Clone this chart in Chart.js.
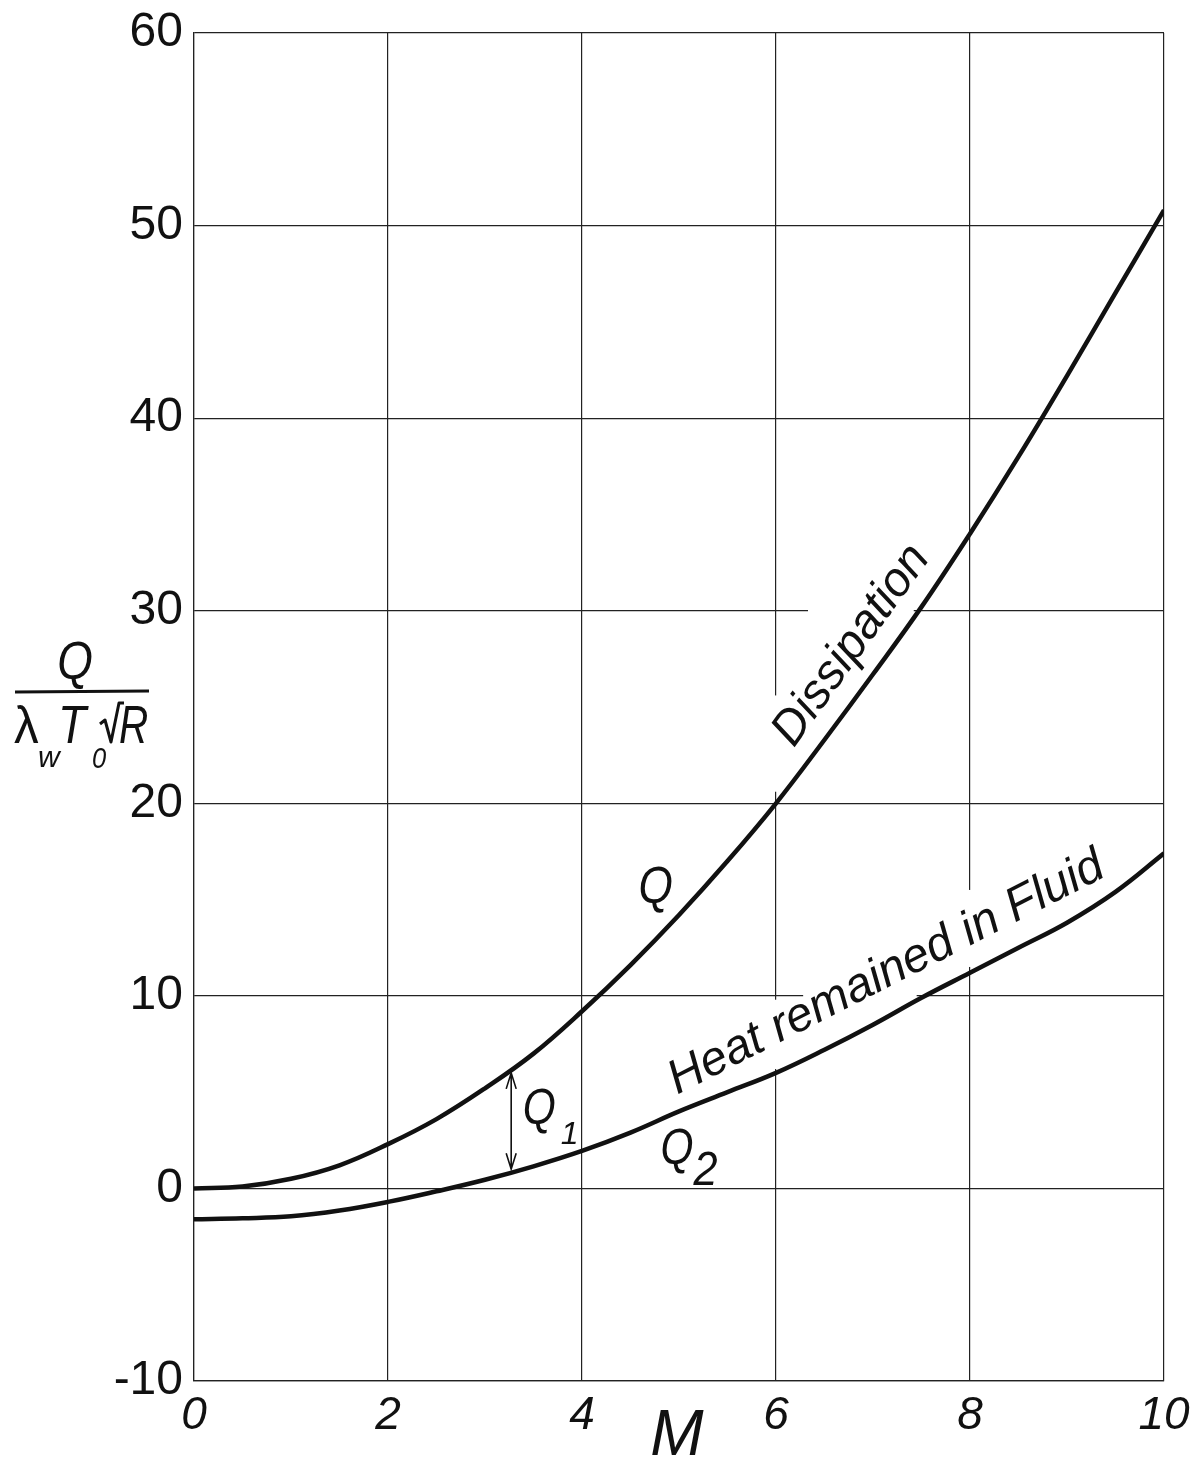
<!DOCTYPE html>
<html>
<head>
<meta charset="utf-8">
<title>Heat dissipation vs Mach number</title>
<script src="https://cdn.jsdelivr.net/npm/chart.js@4.4.1/dist/chart.umd.min.js"></script>
<style>
  html, body { margin: 0; padding: 0; background: #fff; }
  canvas { display: block; }
</style>
</head>
<body>
<canvas id="c" width="1201" height="1458"></canvas>
<script>
// Mach number samples along the x axis
const machNumbers = [0, 0.5, 1, 1.5, 2, 2.5, 3, 3.5, 4, 4.5, 5, 5.5, 6, 6.5, 7, 7.5, 8, 8.5, 9, 9.5, 10];
// Q : total dissipation
const dissipationQ = [0, 0.1, 0.5, 1.2, 2.3, 3.6, 5.2, 7.0, 9.2, 11.6, 14.2, 17.0, 20.0, 23.3, 26.7, 30.2, 34.0, 38.0, 42.2, 46.5, 50.8];
// Q2 : heat remained in the fluid
const heatInFluidQ2 = [-1.6, -1.55, -1.45, -1.15, -0.7, -0.15, 0.45, 1.15, 1.95, 2.9, 4.0, 5.0, 6.0, 7.2, 8.5, 9.9, 11.2, 12.5, 13.8, 15.4, 17.4];
// Q1 = Q - Q2 is marked by a double arrow at this Mach number
const q1ArrowMach = 3.27;
const q1ArrowTop = 6.0;
const q1ArrowBottom = 1.0;

// axis ranges and tick spacing
const xRange = [0, 10];
const yRange = [-10, 60];
const xStep = 2;
const yStep = 10;

const INK = '#111';
const LETTER = '"Liberation Sans", Arial, sans-serif';

function toPoints(xs, ys) { return xs.map((x, i) => ({ x: x, y: ys[i] })); }

// pieces of grid line left blank where the lettering sits
const gridGaps = [
  { along: 'x', at: 30, from: 6.33, to: 7.42 },
  { along: 'x', at: 10, from: 6.28, to: 7.45 },
  { along: 'y', at: 6, from: 20.6, to: 25.6 },
  { along: 'y', at: 6, from: 6.2, to: 9.8 },
  { along: 'y', at: 8, from: 11.5, to: 15.5 }
];

const gridGapPlugin = {
  id: 'gridGaps',
  beforeDatasetsDraw(chart) {
    const { ctx, scales: { x, y } } = chart;
    ctx.save();
    ctx.strokeStyle = '#fff';
    ctx.lineWidth = 4;
    gridGaps.forEach(g => {
      ctx.beginPath();
      if (g.along === 'x') {
        ctx.moveTo(x.getPixelForValue(g.from), y.getPixelForValue(g.at));
        ctx.lineTo(x.getPixelForValue(g.to), y.getPixelForValue(g.at));
      } else {
        ctx.moveTo(x.getPixelForValue(g.at), y.getPixelForValue(g.from));
        ctx.lineTo(x.getPixelForValue(g.at), y.getPixelForValue(g.to));
      }
      ctx.stroke();
    });
    ctx.restore();
  }
};

// text helper; sx squeezes the lettering horizontally
function text(ctx, str, px, py, font, angleDeg, align, sx) {
  ctx.save();
  ctx.translate(px, py);
  ctx.rotate((angleDeg || 0) * Math.PI / 180);
  ctx.scale(sx || 1, 1);
  ctx.font = font;
  ctx.fillStyle = INK;
  ctx.textAlign = align || 'center';
  ctx.textBaseline = 'alphabetic';
  ctx.fillText(str, 0, 0);
  ctx.restore();
}

const labelPlugin = {
  id: 'curveLabels',
  afterDatasetsDraw(chart) {
    const { ctx, scales: { x, y } } = chart;
    const X = v => x.getPixelForValue(v);
    const Y = v => y.getPixelForValue(v);

    // curve names written along the curves
    text(ctx, 'Dissipation', X(6.89), Y(27.8), 'italic 48px ' + LETTER, -54.3, 'center');
    text(ctx, 'Heat remained in Fluid', X(7.20), Y(10.56), 'italic 48px ' + LETTER, -27.0, 'center');
    text(ctx, 'Q', X(4.76), Y(14.8), 'italic 52px ' + LETTER, 0, 'center', 0.85);

    // Q1 with its double arrow, and Q2
    text(ctx, 'Q', X(3.56), Y(3.33), 'italic 50px ' + LETTER, 0, 'center', 0.85);
    text(ctx, '1', X(3.78), Y(2.29), 'italic 32px ' + LETTER, 0, 'left');
    text(ctx, 'Q', X(4.98), Y(1.25), 'italic 50px ' + LETTER, 0, 'center', 0.85);
    text(ctx, '2', X(5.15), Y(0.2), 'italic 48px ' + LETTER, 0, 'left', 0.9);

    const ax = X(q1ArrowMach), at = Y(q1ArrowTop), ab = Y(q1ArrowBottom);
    ctx.save();
    ctx.strokeStyle = INK;
    ctx.lineWidth = 1.6;
    ctx.beginPath();
    ctx.moveTo(ax, at); ctx.lineTo(ax, ab);
    ctx.moveTo(ax - 5, at + 16); ctx.lineTo(ax, at); ctx.lineTo(ax + 5, at + 16);
    ctx.moveTo(ax - 5, ab - 16); ctx.lineTo(ax, ab); ctx.lineTo(ax + 5, ab - 16);
    ctx.stroke();
    ctx.restore();
  },
  afterDraw(chart) {
    const { ctx, chartArea } = chart;
    // x axis title
    text(ctx, 'M', (chartArea.left + chartArea.right) / 2 - 2, chart.height - 3, 'italic 64px ' + LETTER, 0, 'center');

    // y axis title: Q / (λ_w T_0 √R)
    const f = 'italic 54px ' + LETTER;
    const sub = 'italic 30px ' + LETTER;
    text(ctx, 'Q', 75, 679, f, 0, 'center', 0.85);
    ctx.save();
    ctx.strokeStyle = INK;
    ctx.lineWidth = 3;
    ctx.beginPath();
    ctx.moveTo(15, 692); ctx.lineTo(149, 691);
    ctx.stroke();
    ctx.restore();
    text(ctx, 'λ', 14, 743, '52px ' + LETTER, 0, 'left', 0.95);
    text(ctx, 'w', 38, 767, sub, 0, 'left');
    text(ctx, 'T', 58, 743, f, 0, 'left', 0.85);
    text(ctx, '0', 92, 768, sub, 0, 'left', 0.85);
    ctx.save();
    ctx.strokeStyle = INK;
    ctx.lineWidth = 3;
    ctx.lineJoin = 'round';
    ctx.beginPath();
    ctx.moveTo(100, 724); ctx.lineTo(105, 720); ctx.lineTo(111, 742); ctx.lineTo(119, 703); ctx.lineTo(124, 703);
    ctx.stroke();
    ctx.restore();
    text(ctx, 'R', 119, 743, f, 0, 'left', 0.75);
  }
};

new Chart(document.getElementById('c'), {
  type: 'line',
  data: {
    datasets: [
      {
        label: 'Q (Dissipation)',
        data: toPoints(machNumbers, dissipationQ),
        borderColor: INK,
        borderWidth: 4.5,
        pointRadius: 0,
        tension: 0.4,
        fill: false
      },
      {
        label: 'Q2 (Heat remained in Fluid)',
        data: toPoints(machNumbers, heatInFluidQ2),
        borderColor: INK,
        borderWidth: 4.5,
        pointRadius: 0,
        tension: 0.4,
        fill: false
      }
    ]
  },
  options: {
    responsive: false,
    animation: false,
    devicePixelRatio: 1,
    layout: { padding: { top: 33, right: 37, left: 0, bottom: 0 } },
    plugins: { legend: { display: false }, tooltip: { enabled: false } },
    scales: {
      x: {
        type: 'linear',
        min: xRange[0],
        max: xRange[1],
        ticks: {
          stepSize: xStep,
          color: INK,
          font: { family: LETTER, size: 46, style: 'italic' },
          padding: 8,
          maxRotation: 0
        },
        grid: { color: '#222', lineWidth: 1.2, drawTicks: false },
        border: { color: '#222', width: 1.2 },
        afterFit(s) { s.height = 77; }
      },
      y: {
        min: yRange[0],
        max: yRange[1],
        ticks: {
          stepSize: yStep,
          color: INK,
          font: { family: LETTER, size: 48, lineHeight: 0.8 },
          padding: 11
        },
        grid: { color: '#222', lineWidth: 1.2, drawTicks: false },
        border: { color: '#222', width: 1.2 },
        afterFit(s) { s.width = 194; }
      }
    }
  },
  plugins: [gridGapPlugin, labelPlugin]
});
</script>
</body>
</html>
